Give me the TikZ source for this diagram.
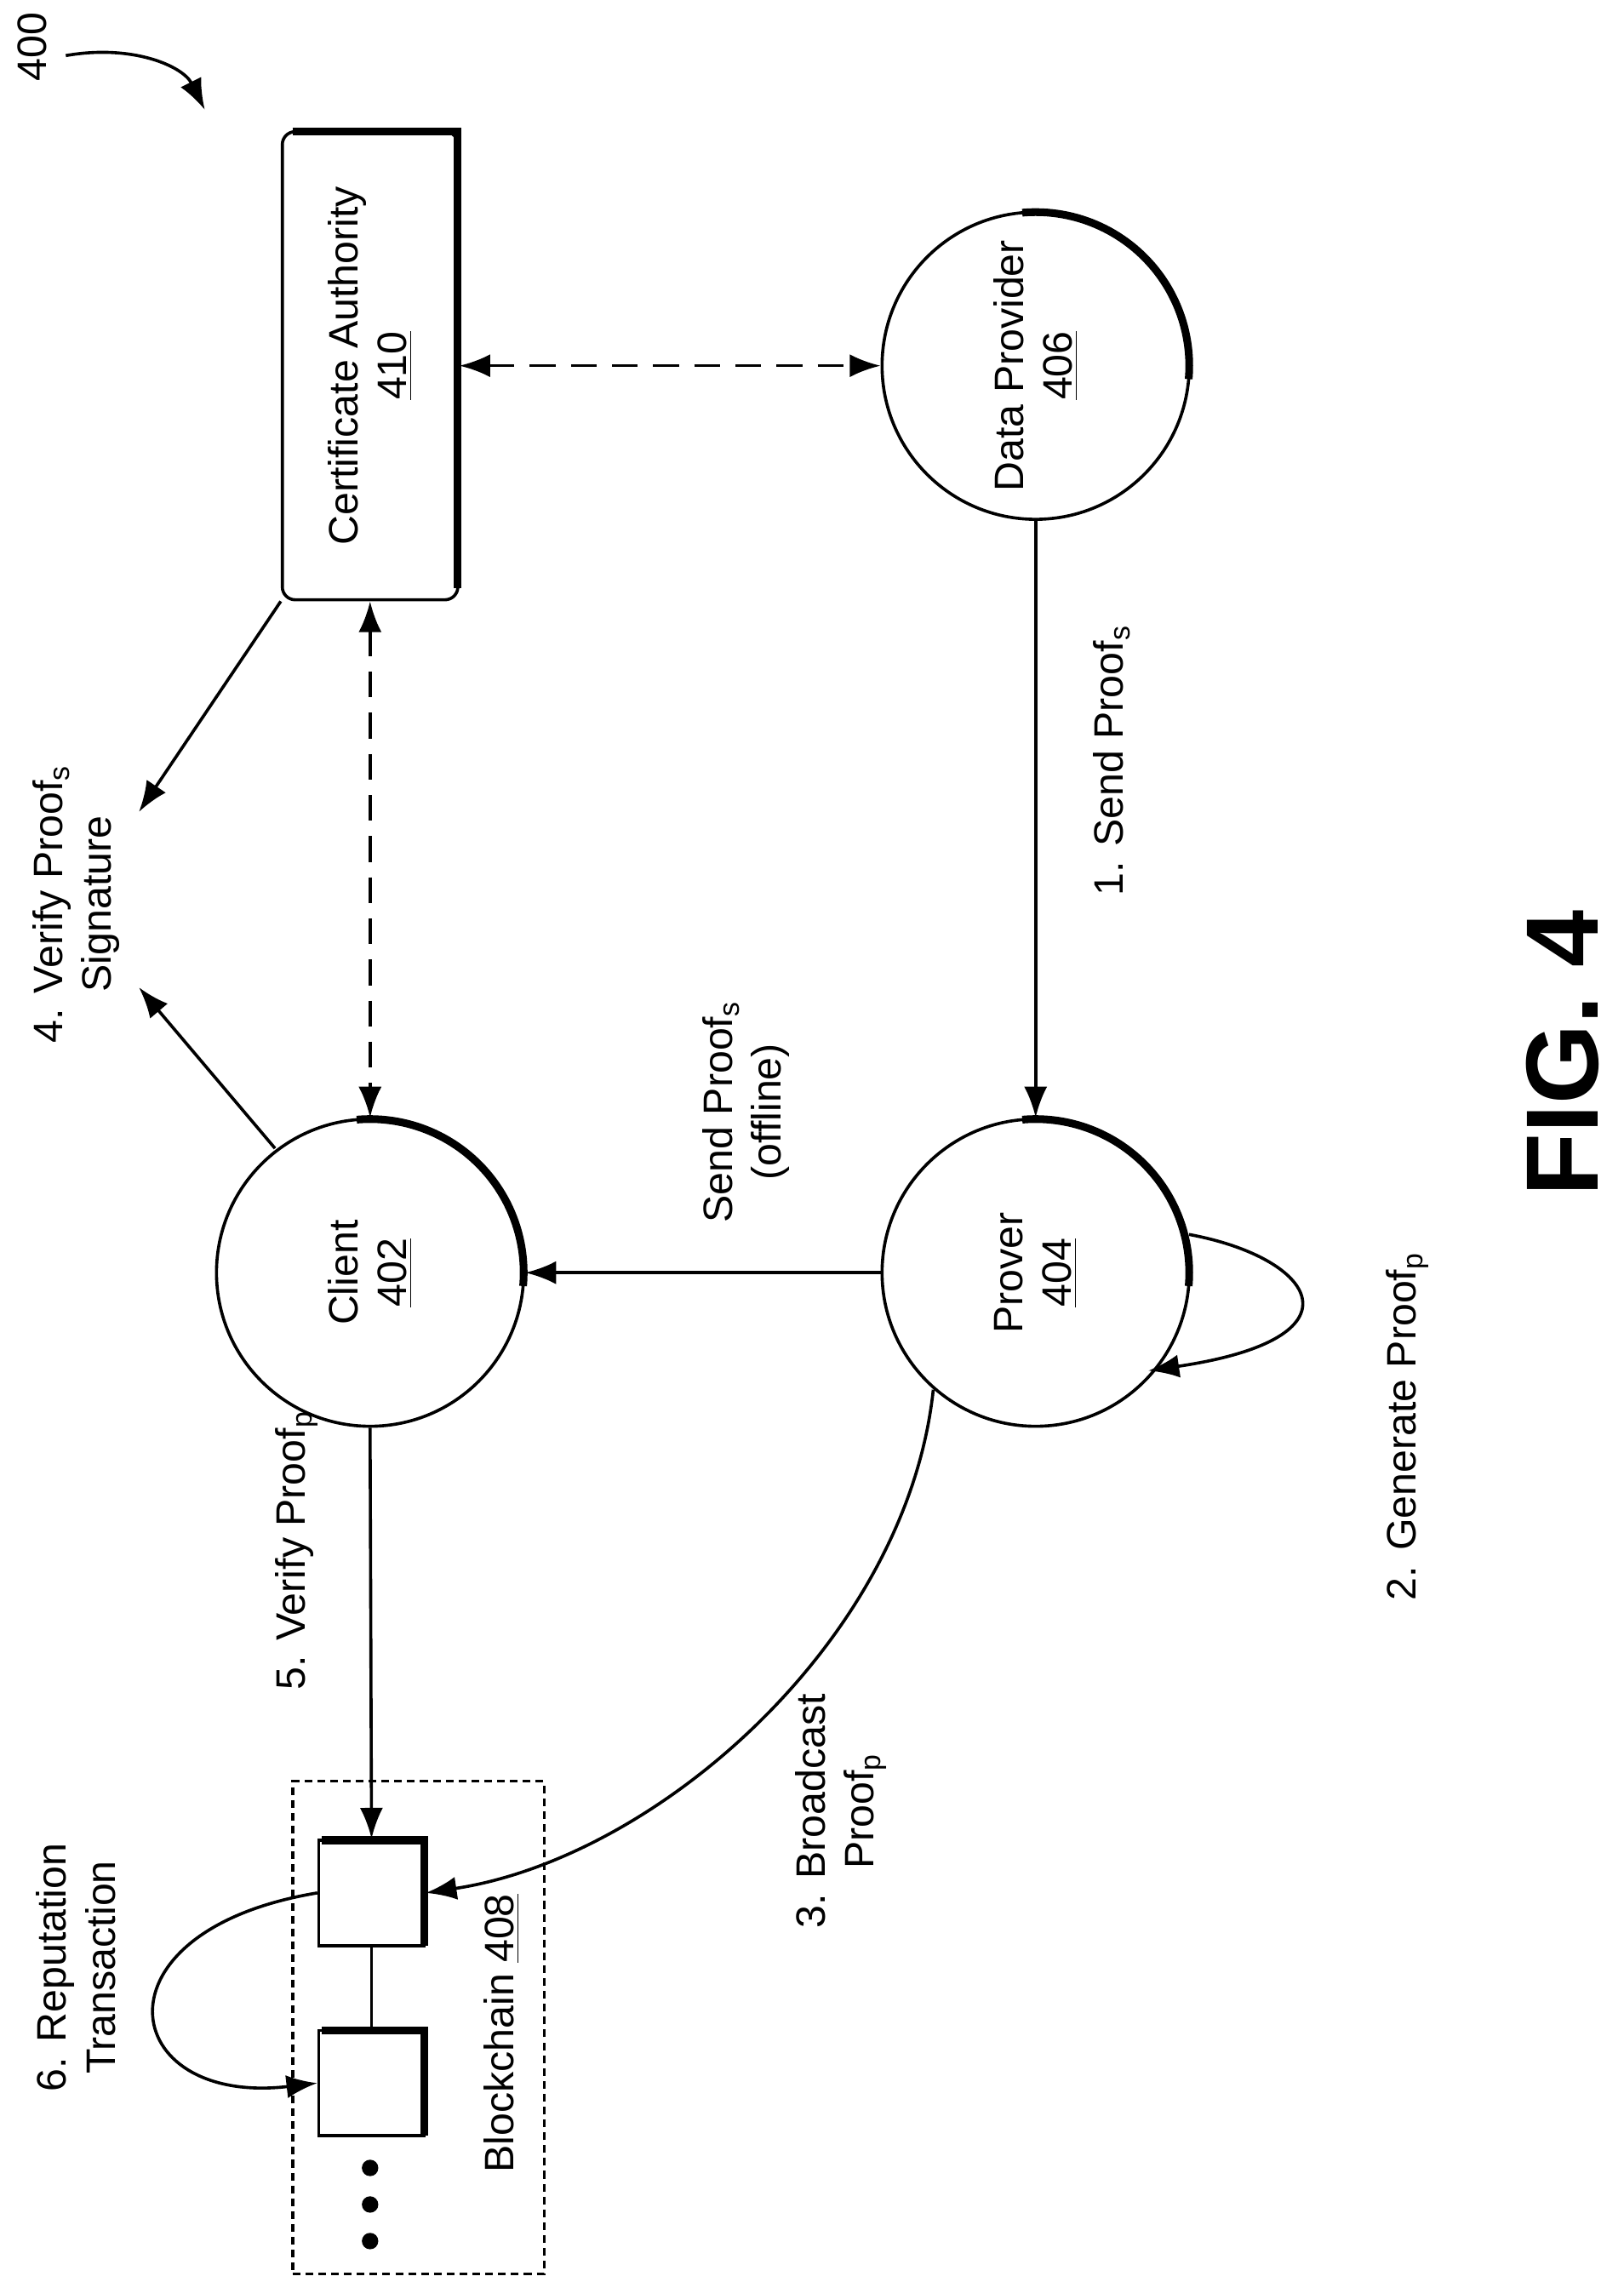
\documentclass[tikz,border=0pt]{standalone}
\usepackage{fontspec}
\setmainfont{Liberation Sans}
\usetikzlibrary{arrows.meta}
\begin{document}
\begin{tikzpicture}[x=0.02cm,y=-0.02cm,
  ln/.style={line width=1.2pt},
  arr/.style={ln,-{Latex[length=12pt,width=9pt]}},
  darr/.style={ln,dash pattern=on 10pt off 6pt,{Latex[length=12pt,width=9pt]}-{Latex[length=12pt,width=9pt]}},
  circ/.style={circle,draw,ln,minimum size=210*0.02cm,inner sep=0pt,align=center},
  lab/.style={rotate=90,align=center,font=\fontsize{16}{19}\selectfont},
  blk/.style={draw,ln,minimum size=72*0.02cm,inner sep=0pt}]
\useasboundingbox (0,0) rectangle (1110,1560);
% CA
\node[draw,ln,rounded corners=5pt,minimum width=120*0.02cm,minimum height=320*0.02cm] (ca) at (253,250) {};
\draw[line width=3pt] (200,90)--(313,90)--(313,402);
\node[lab] at (ca) {Certificate Authority\\\underline{410}};
% circles
\node[circ] (dp) at (708,250) {};
\node[circ] (pr) at (708,870) {};
\node[circ] (cl) at (253,870) {};
\foreach \c in {dp,pr,cl}{\draw[line width=3pt] (\c.center)++(95:105*0.02cm) arc[start angle=95,end angle=-5,radius=105*0.02cm];}
\node[lab] at (dp) {Data Provider\\\underline{406}};
\node[lab] at (pr) {Prover\\\underline{404}};
\node[lab] at (cl) {Client\\\underline{402}};
% blockchain
\node[draw,ln,dash pattern=on 3pt off 2pt,minimum width=172*0.02cm,minimum height=337*0.02cm] (bc) at (286,1386) {};
\node[blk] (b1) at (254,1294) {};
\node[blk] (b2) at (254,1424) {};
\draw[line width=3pt] (220,1258)--(290,1258)--(290,1330) (220,1388)--(290,1388)--(290,1460);
\draw[ln] (b1.south)--(b2.north);
\foreach \yy in {1482,1507,1532} \fill (253,\yy) circle (3.2pt);
\node[lab] at (343,1390) {Blockchain \underline{408}};
% arrows
\draw[darr] (ca.east |- 0,250) -- (dp.west);
\draw[darr] (ca.south) -- (cl.north);
\draw[arr] (dp.south) -- (pr.north);
\draw[arr] (pr.west) -- (cl.east);
\draw[arr] (cl.south) -- (b1.north);
\draw[arr] (pr.south west)++(5,5) coordinate (p1) .. controls (620,1120) and (450,1270) .. (b1.east);
\draw[arr] (pr.center)++(14:108*0.02cm) .. controls (900,860) and (935,915) .. (785,937);
\draw[arr] (b1.west) .. controls (60,1320) and (80,1440) .. (b2.west);
\draw[arr] (ca.south west) -- (95,555);
\draw[arr] (cl.north west)++(10,-10) -- (95,675);
% labels
\node[lab] at (760,520) {1. Send Proof$_\mathrm{s}$};
\node[lab] at (510,760) {Send Proof$_\mathrm{s}$\\(offline)};
\node[lab] at (962,975) {2. Generate Proof$_\mathrm{p}$};
\node[lab] at (575,1238) {3. Broadcast\\Proof$_\mathrm{p}$};
\node[lab] at (203,1060) {5. Verify Proof$_\mathrm{p}$};
\node[lab] at (52,1345) {6. Reputation\\Transaction};
\node[lab] at (52,618) {4. Verify Proof$_\mathrm{s}$\\Signature};
\node[rotate=90,font=\fontsize{40}{44}\selectfont\bfseries] at (1068,720) {FIG. 4};
\node[lab] (n400) at (22,32) {400};
\draw[arr] (45,38) .. controls (90,30) and (125,45) .. (140,75);
\end{tikzpicture}
\end{document}
